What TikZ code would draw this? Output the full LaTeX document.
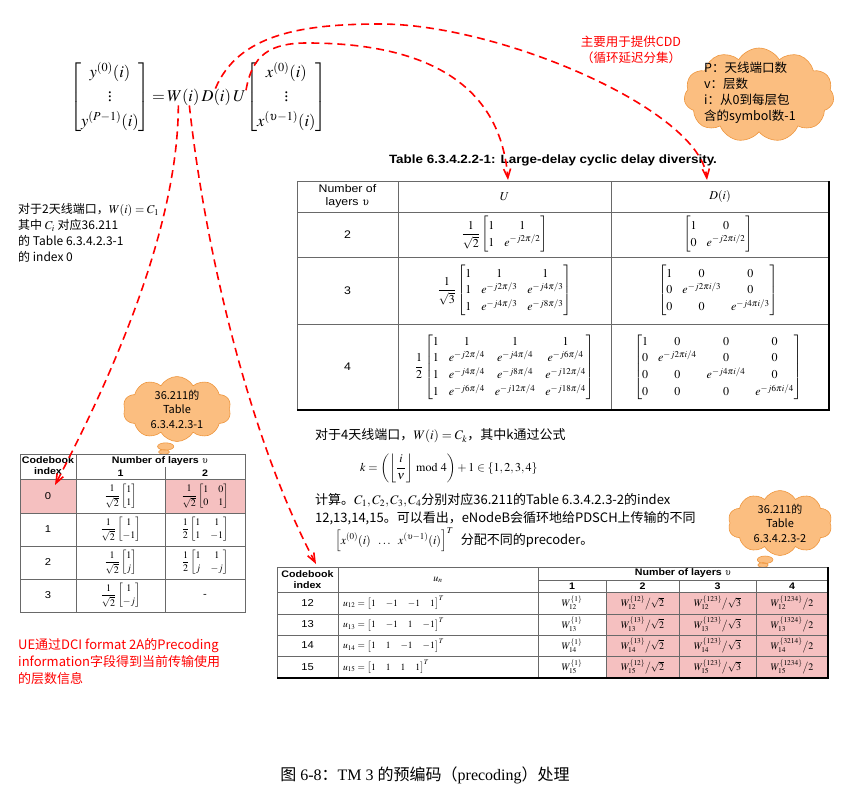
\documentclass[tikz,border=0pt]{standalone}
\usepackage{amsmath,amssymb}
\usepackage{mathptmx}
\usepackage[no-math]{fontspec}
\setmainfont{Liberation Serif}
\setsansfont[FakeStretch=1.12]{Liberation Sans}
\newfontfamily\cjk{Noto Sans CJK SC}
\usetikzlibrary{arrows.meta,positioning,shapes.symbols,shapes.callouts}
\definecolor{cellpink}{RGB}{245,192,192}
\definecolor{cloudfill}{RGB}{251,190,128}
\definecolor{cloudline}{RGB}{238,150,62}
\definecolor{gridgray}{RGB}{105,105,105}
\tikzset{
  txt/.style={inner sep=0pt, anchor=west, align=left,
    font=\cjk\fontsize{12}{16}\selectfont},
  midtxt/.style={txt, font=\cjk\fontsize{13}{17}\selectfont},
  eqn/.style={inner sep=0pt, font=\fontsize{16.5}{19}\selectfont\def\arraystretch{1.3}},
  eqs/.style={inner sep=0pt, font=\fontsize{12}{14}\selectfont},
  tab/.style={inner sep=0pt, align=center, font=\sffamily\fontsize{11}{13}\selectfont},
  tabs/.style={inner sep=0pt, align=center, font=\sffamily\fontsize{10}{12}\selectfont},
  tabhd/.style={inner sep=0pt, align=center, font=\sffamily\bfseries\fontsize{9.5}{11}\selectfont},
  mat/.style={inner sep=0pt, font=\fontsize{12}{14}\selectfont\def\arraystretch{1.2}},
  smat/.style={inner sep=0pt, font=\fontsize{10}{12}\selectfont\def\arraystretch{1.1}},
  puff/.style={cloud, cloud puffs=11, cloud puff arc=120, cloud ignores aspect,
    fill=cloudfill, draw=cloudline, line width=0.6pt, inner sep=0pt},
  puffcall/.style={cloud callout, cloud puffs=10, cloud puff arc=120, cloud ignores aspect,
    fill=cloudfill, draw=cloudline, line width=0.6pt, inner sep=0pt, align=center,
    font=\cjk\fontsize{11}{14.5}\selectfont},
  link/.style={red, line width=1.6pt, dash pattern=on 8pt off 5pt,
    -{Straight Barb[length=9pt,width=7pt]}},
  grid/.style={gridgray, line width=0.8pt},
  frame/.style={black, line width=1.5pt},
}

\begin{document}
\begin{tikzpicture}[x=1pt, y=-1pt]
  \useasboundingbox (0,0) rectangle (843,797);
  % equation
  \node[eqn, anchor=east] (ylhs) at (150,97)
    {$\begin{bmatrix}y^{(0)}(i)\\ \vdots\\ y^{(P-1)}(i)\end{bmatrix}$};
  \node[eqn, anchor=base west] (eqEq) at (ylhs.base east) {$\,=$};
  \node[eqn, anchor=base west] (eqW) at (eqEq.base east) {$\,W(i)$};
  \node[eqn, anchor=base west] (eqD) at (eqW.base east) {$\,D(i)$};
  \node[eqn, anchor=base west] (eqU) at (eqD.base east) {$\,U$};
  \node[eqn, anchor=base west] (xrhs) at (eqU.base east)
    {$\begin{bmatrix}x^{(0)}(i)\\ \vdots\\ x^{(\upsilon-1)}(i)\end{bmatrix}$};

  % notes
  \node[txt, anchor=north west] (noteL) at (18,203)
    {对于2天线端口，$W(i)=C_1$\\其中 $C_i$ 对应36.211\\的 Table 6.3.4.2.3-1\\的 index 0};
  \node[txt, anchor=center, align=center, text=red, font=\cjk\fontsize{12.5}{16}\selectfont]
    (noteCDD) at (631,50) {主要用于提供CDD\\（循环延迟分集）};
  \node[txt, anchor=north west, text=red, font=\cjk\fontsize{13}{17}\selectfont] (noteUE) at (18,638)
    {UE通过DCI format 2A的Precoding\\information字段得到当前传输使用\\的层数信息};

  % clouds
  \node[puff, minimum width=150, minimum height=94] (cldP) at (759,95) {};
  \node[txt, anchor=north west, font=\cjk\fontsize{12.5}{16}\selectfont] (cldPtxt) at (704,62)
    {P：天线端口数\\v：层数\\i：从0到每层包\\含的symbol数-1};
  \node[puffcall, minimum width=108, minimum height=60,
    callout absolute pointer={(164,452)}] (cldA) at (177,409) {36.211的\\Table\\6.3.4.2.3-1};
  \node[puffcall, minimum width=104, minimum height=62,
    callout absolute pointer={(763,565)}] (cldB) at (780,523) {36.211的\\Table\\6.3.4.2.3-2};

  % Table 6.3.4.2.2-1
  \node[inner sep=0pt, font=\sffamily\bfseries\fontsize{12}{14}\selectfont] (tA-title) at (553,160)
    {Table 6.3.4.2.2-1: Large-delay cyclic delay diversity.};
  \draw[grid] (297,181) rectangle (829,410);
  \draw[grid] (398,181) -- (398,410);
  \draw[grid] (611,181) -- (611,410);
  \foreach \yy in {212,257,324} \draw[grid] (297,\yy) -- (829,\yy);
  \draw[frame] (829,181) -- (829,410) -- (297,410);
  \coordinate (tA-topU) at (508,180);
  \coordinate (tA-topD) at (707,180);
  \node[tab] (tA-h0) at (347.5,196.5) {Number of\\layers~$\upsilon$};
  \node[mat] (tA-hU) at (504.5,196.5) {$U$};
  \node[mat] (tA-hD) at (720,196.5) {$D(i)$};
  \foreach \nl/\yy in {2/234.5, 3/290.5, 4/367}
    \node[tab] (tA-l\nl) at (347.5,\yy) {\nl};
  \node[mat] (tA-u2) at (504.5,234.5)
    {$\dfrac{1}{\sqrt2}\begin{bmatrix}1&1\\1&e^{-j2\pi/2}\end{bmatrix}$};
  \node[mat] (tA-d2) at (718,234.5)
    {$\begin{bmatrix}1&0\\0&e^{-j2\pi i/2}\end{bmatrix}$};
  \node[mat] (tA-u3) at (504.5,290.5)
    {$\dfrac{1}{\sqrt3}\begin{bmatrix}1&1&1\\1&e^{-j2\pi/3}&e^{-j4\pi/3}\\1&e^{-j4\pi/3}&e^{-j8\pi/3}\end{bmatrix}$};
  \node[mat] (tA-d3) at (718,290.5)
    {$\begin{bmatrix}1&0&0\\0&e^{-j2\pi i/3}&0\\0&0&e^{-j4\pi i/3}\end{bmatrix}$};
  \node[mat] (tA-u4) at (504.5,367)
    {$\dfrac{1}{2}\begin{bmatrix}1&1&1&1\\1&e^{-j2\pi/4}&e^{-j4\pi/4}&e^{-j6\pi/4}\\1&e^{-j4\pi/4}&e^{-j8\pi/4}&e^{-j12\pi/4}\\1&e^{-j6\pi/4}&e^{-j12\pi/4}&e^{-j18\pi/4}\end{bmatrix}$};
  \node[mat] (tA-d4) at (718,367)
    {$\begin{bmatrix}1&0&0&0\\0&e^{-j2\pi i/4}&0&0\\0&0&e^{-j4\pi i/4}&0\\0&0&0&e^{-j6\pi i/4}\end{bmatrix}$};

  % middle text
  \node[midtxt] (mid1) at (315,436) {对于4天线端口，$W(i)=C_k$，其中k通过公式};
  \node[eqs, anchor=west] (midF) at (360,468)
    {$k=\left(\left\lfloor\dfrac{i}{\nu}\right\rfloor\bmod 4\right)+1\in\{1,2,3,4\}$};
  \node[midtxt] (mid3) at (315,500) {计算。$C_1,C_2,C_3,C_4$分别对应36.211的Table 6.3.4.2.3-2的index};
  \node[midtxt] (mid4) at (315,518) {12,13,14,15。可以看出，eNodeB会循环地给PDSCH上传输的不同};
  \node[eqs, anchor=west] (midX) at (335,540)
    {$\left[x^{(0)}(i)\ \ \ldots\ \ x^{(\upsilon-1)}(i)\right]^T$};
  \node[midtxt, right=7pt of midX] (mid5) {分配不同的precoder。};

  % Table 6.3.4.2.3-1 (2 ports)
  \fill[cellpink] (20,479) rectangle (76,513);
  \fill[cellpink] (165,479) rectangle (245,513);
  \draw[grid] (20,454) rectangle (245,612);
  \draw[grid] (76,454) -- (76,612);
  \draw[grid] (165,467) -- (165,612);
  \foreach \yy in {479,513,546,579} \draw[grid] (20,\yy) -- (245,\yy);
  \node[tabhd] (tB-hd0) at (48,466) {Codebook\\index};
  \node[tabhd] (tB-hdL) at (160,461) {Number of layers \mdseries$\upsilon$};
  \node[tabhd] (tB-hd1) at (120.5,473.5) {1};
  \node[tabhd] (tB-hd2) at (205,473.5) {2};
  \foreach \nl/\yy in {0/496, 1/529.5, 2/562.5, 3/595.5}
    \node[tabs] (tB-r\nl) at (48,\yy) {\nl};
  \node[smat] (tB-a0) at (120.5,496) {$\dfrac{1}{\sqrt2}\begin{bmatrix}1\\1\end{bmatrix}$};
  \node[smat] (tB-b0) at (205,496) {$\dfrac{1}{\sqrt2}\begin{bmatrix}1&0\\0&1\end{bmatrix}$};
  \node[smat] (tB-a1) at (120.5,529.5) {$\dfrac{1}{\sqrt2}\begin{bmatrix}1\\-1\end{bmatrix}$};
  \node[smat] (tB-b1) at (205,529.5) {$\dfrac{1}{2}\begin{bmatrix}1&1\\1&-1\end{bmatrix}$};
  \node[smat] (tB-a2) at (120.5,562.5) {$\dfrac{1}{\sqrt2}\begin{bmatrix}1\\j\end{bmatrix}$};
  \node[smat] (tB-b2) at (205,562.5) {$\dfrac{1}{2}\begin{bmatrix}1&1\\j&-j\end{bmatrix}$};
  \node[smat] (tB-a3) at (120.5,595.5) {$\dfrac{1}{\sqrt2}\begin{bmatrix}1\\-j\end{bmatrix}$};
  \node[tabs] (tB-b3) at (205,595.5) {-};

  % Table 6.3.4.2.3-2 (4 ports)
  \fill[cellpink] (606,592) rectangle (828,678);
  \draw[grid] (277,567) rectangle (828,678);
  \draw[grid] (338,567) -- (338,678);
  \draw[grid] (538,567) -- (538,678);
  \foreach \xx in {606,679,756} \draw[grid] (\xx,580) -- (\xx,678);
  \draw[grid] (538,580) -- (828,580);
  \foreach \yy in {592,614,635,656} \draw[grid] (277,\yy) -- (828,\yy);
  \draw[frame] (828,567) -- (828,678) -- (277,678);
  \node[tabhd] (tC-hd0) at (307.5,579.5) {Codebook\\index};
  \node[smat] (tC-hdu) at (438,580) {$u_n$};
  \node[tabhd] (tC-hdL) at (683,573.5) {Number of layers \mdseries$\upsilon$};
  \foreach \nl/\xx in {1/572, 2/642.5, 3/717.5, 4/792}
    \node[tabhd] (tC-hd\nl) at (\xx,586.5) {\nl};
  \foreach \idx/\yy/\uvec/\wa/\wb in {12/603/{1&-1&-1&1}/12/1234, 13/624.5/{1&-1&1&-1}/13/1324,
      14/645.5/{1&1&-1&-1}/13/3214, 15/667/{1&1&1&1}/12/1234} {
    \node[tabs] (tC-i\idx) at (307.5,\yy) {\idx};
    \node[smat, font=\fontsize{9.5}{11}\selectfont, anchor=west] (tC-u\idx) at (343,\yy)
      {$u_{\idx}=\begin{bmatrix}\uvec\end{bmatrix}^T$};
    \node[smat] (tC-a\idx) at (572,\yy) {$W_{\idx}^{\{1\}}$};
    \node[smat] (tC-b\idx) at (642.5,\yy) {$W_{\idx}^{\{\wa\}}\big/\sqrt{2}$};
    \node[smat] (tC-c\idx) at (717.5,\yy) {$W_{\idx}^{\{123\}}\big/\sqrt{3}$};
    \node[smat] (tC-d\idx) at (792,\yy) {$W_{\idx}^{\{\wb\}}\big/2$};
  }

  % links from the equation
  \coordinate (tB-hit) at (55,485);
  \coordinate (tC-hit) at (316,564);
  \draw[link] ([xshift=-4pt]eqW.south) .. controls (178,230) and (110,380) .. (tB-hit);
  \draw[link] ([xshift=7pt]eqW.south) .. controls (205,250) and (250,440) .. (tC-hit);
  \draw[link] (eqD.north) .. controls (238,35) and (300,24) .. (380,24)
    .. controls (500,24) and (700,110) .. (tA-topD);
  \draw[link] (eqU.north east) .. controls (252,55) and (270,43) .. (307,43)
    .. controls (420,43) and (500,80) .. (tA-topU);

  % caption
  \node[inner sep=0pt, font=\fontsize{16}{18}\selectfont] (caption) at (425,775)
    {{\cjk 图} 6-8{\cjk ：}TM 3 {\cjk 的预编码（}precoding{\cjk ）处理}};
\end{tikzpicture}
\end{document}
